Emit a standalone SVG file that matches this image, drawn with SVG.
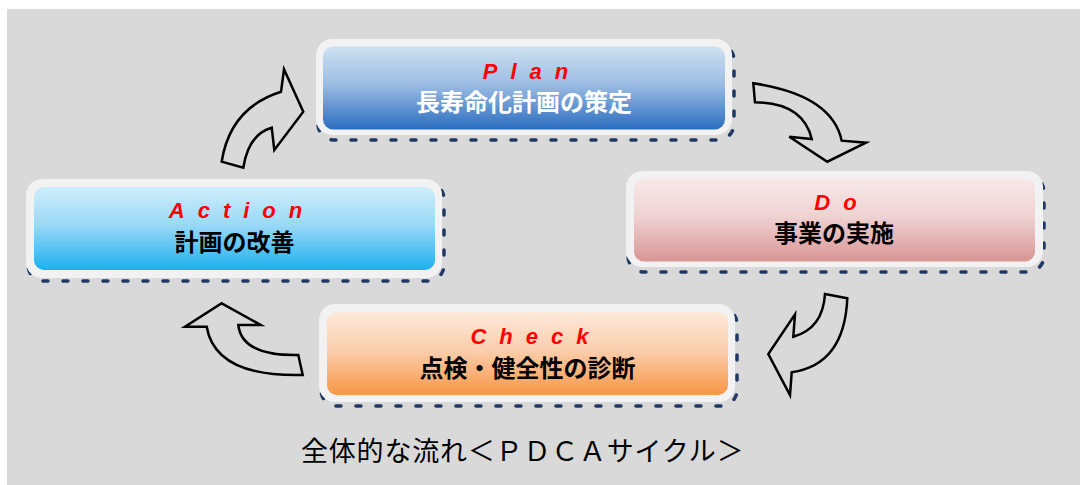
<svg xmlns="http://www.w3.org/2000/svg" width="1080" height="485" viewBox="0 0 1080 485">
<defs>
<linearGradient id="gPlan" x1="0" y1="0" x2="0" y2="1"><stop offset="0" stop-color="#cde1f2"/><stop offset="0.45" stop-color="#9dbde3"/><stop offset="1" stop-color="#2a6dbf"/></linearGradient>
<linearGradient id="gDo" x1="0" y1="0" x2="0" y2="1"><stop offset="0" stop-color="#f8e8e8"/><stop offset="0.45" stop-color="#efd3d3"/><stop offset="1" stop-color="#d99594"/></linearGradient>
<linearGradient id="gAct" x1="0" y1="0" x2="0" y2="1"><stop offset="0" stop-color="#cdeefb"/><stop offset="0.45" stop-color="#9bd9f6"/><stop offset="1" stop-color="#1eb0ef"/></linearGradient>
<linearGradient id="gChk" x1="0" y1="0" x2="0" y2="1"><stop offset="0" stop-color="#fde9da"/><stop offset="0.45" stop-color="#fbcfae"/><stop offset="1" stop-color="#f79646"/></linearGradient>
</defs>
<style>
.frame{fill:#f2f2f2}
.shadow{fill:none;stroke:#1f3864;stroke-width:3.5;stroke-dasharray:5 15;stroke-linecap:round}
.en{font-family:"Liberation Sans",Arial,sans-serif;font-style:italic;font-weight:bold;font-size:22px;fill:#ff0000;letter-spacing:13px;text-anchor:middle}
.jp{font-family:"Noto Sans CJK JP","Noto Sans",sans-serif;font-weight:bold;font-size:24px;text-anchor:middle}
.arrow{fill:#d9d9d9;stroke:#000;stroke-width:2.5;stroke-linejoin:miter}
</style>
<rect x="0" y="0" width="1080" height="485" fill="#ffffff"/>
<rect x="7" y="9" width="1073" height="476" fill="#d9d9d9"/>

<g id="connectors">
<path class="arrow" d="M303.3,111.7 L284,69.3 L281,91.7 Q230,108 221.7,161.7 L243.3,167.7 Q248.5,134.3 271.7,127.7 L274.3,150 Z"/>
<path class="arrow" d="M753.3,83.3 L755,102.3 Q803.2,102.8 811.7,139 L789.3,136.7 L827.3,161.7 L866,142.7 L841.7,140.7 Q832,95 753.3,83.3 Z"/>
<path class="arrow" d="M825,294 L847.3,298.3 Q844.5,364.7 791.7,372.3 L790,395 L768.3,354 L795,314.3 L793.3,336.7 Q822.8,328.6 825,294 Z"/>
<path class="arrow" d="M221.7,303.3 L260.7,325 L238.3,325 Q241.7,356 298.3,355 L302.7,375 Q215.3,377.2 206.7,326.7 L185,326.7 Z"/>
</g>

<g id="plan">
<rect class="shadow" x="318" y="44" width="416" height="96" rx="16"/>
<rect class="frame" x="316" y="39" width="416" height="96" rx="16"/>
<rect x="323" y="46.5" width="402" height="83" rx="10" fill="url(#gPlan)"/>
<text class="en" x="532" y="78.5">Plan</text>
<text class="jp" x="524" y="110.5" fill="#ffffff">長寿命化計画の策定</text>
</g>

<g id="do">
<rect class="shadow" x="628" y="176" width="416" height="96" rx="16"/>
<rect class="frame" x="626" y="171" width="417" height="96" rx="16"/>
<rect x="634" y="178.5" width="401" height="83" rx="10" fill="url(#gDo)"/>
<text class="en" x="842" y="209.5">Do</text>
<text class="jp" x="834" y="242">事業の実施</text>
</g>

<g id="action">
<rect class="shadow" x="28" y="183" width="416" height="98" rx="16"/>
<rect class="frame" x="26" y="179" width="416" height="99" rx="16"/>
<rect x="34" y="187" width="401" height="83" rx="10" fill="url(#gAct)"/>
<text class="en" x="242" y="218">Action</text>
<text class="jp" x="234.5" y="251">計画の改善</text>
</g>

<g id="check">
<rect class="shadow" x="321" y="308" width="416" height="98" rx="16"/>
<rect class="frame" x="319" y="304" width="416" height="98" rx="16"/>
<rect x="327" y="312" width="401" height="83" rx="10" fill="url(#gChk)"/>
<text class="en" x="536" y="343.5">Check</text>
<text class="jp" x="527.5" y="377">点検・健全性の診断</text>
</g>

<text x="301" y="461" font-family="'Noto Sans CJK JP','Noto Sans',sans-serif" font-size="27" letter-spacing="0.8" fill="#000">全体的な流れ＜ＰＤＣＡサイクル＞</text>
</svg>
